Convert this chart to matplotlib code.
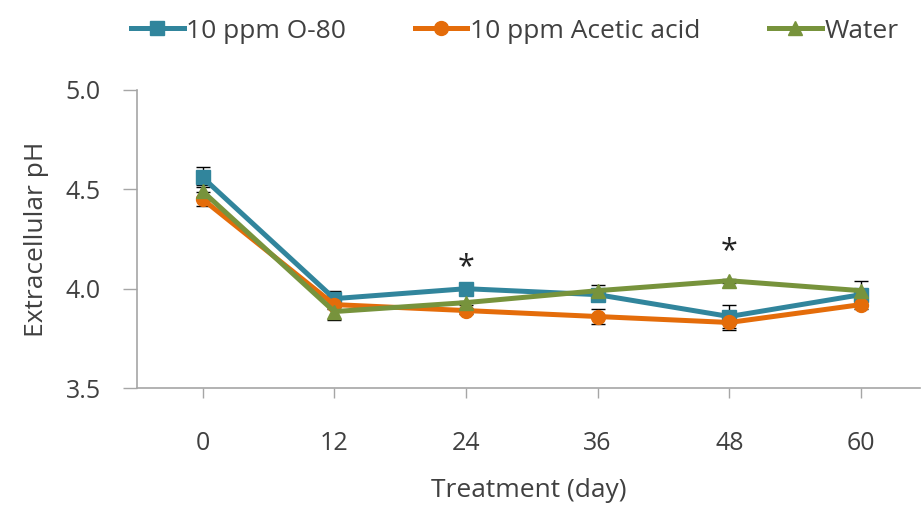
import matplotlib.pyplot as plt

# treatment days and mean extracellular pH for each condition
days = [0, 12, 24, 36, 48, 60]
o80 = [4.56, 3.95, 4.00, 3.97, 3.86, 3.97]
o80_err = [0.05, 0.04, 0.01, 0.03, 0.06, 0.02]
acetic = [4.45, 3.92, 3.89, 3.86, 3.83, 3.92]
acetic_err = [0.035, 0.02, 0.015, 0.04, 0.04, 0.02]
water = [4.49, 3.885, 3.93, 3.99, 4.04, 3.99]
water_err = [0.03, 0.04, 0.01, 0.03, 0.01, 0.05]

# significance marks
star_days = [24, 48]
star_y = [4.11, 4.19]

text_color = '#404040'
axis_color = '#A6A6A6'

plt.rcParams['font.family'] = ['Open Sans', 'DejaVu Sans']

fig = plt.figure(figsize=(9.24, 5.14), dpi=100)
ax = fig.add_axes([0.148, 0.245, 0.848, 0.58])

series = [
    (o80, o80_err, '10 ppm O-80', '#31859C', 's'),
    (acetic, acetic_err, '10 ppm Acetic acid', '#E46C0A', 'o'),
    (water, water_err, 'Water', '#77933C', '^'),
]
for vals, errs, label, color, marker in series:
    ax.errorbar(days, vals, yerr=errs, color=color, ecolor='black', elinewidth=1,
                capsize=5, capthick=1, zorder=1)
    ax.plot(days, vals, color=color, lw=3.6, marker=marker, ms=10,
            label=label, zorder=2)

for d, y in zip(star_days, star_y):
    ax.text(d, y, '*', ha='center', va='center', fontsize=22, color='#222222')

ax.set_xlim(-6, 65.4)
ax.set_ylim(3.5, 5.0)
ax.set_xticks(days)
ax.set_yticks([3.5, 4.0, 4.5, 5.0])
ax.set_yticklabels(['3.5', '4.0', '4.5', '5.0'])

for side in ['top', 'right']:
    ax.spines[side].set_visible(False)
for side in ['left', 'bottom']:
    ax.spines[side].set_color(axis_color)
    ax.spines[side].set_linewidth(1.2)

ax.tick_params(axis='x', direction='out', length=7, width=1, color=axis_color,
               pad=24, labelsize=18, labelcolor=text_color)
ax.tick_params(axis='y', direction='out', length=10, width=1, color=axis_color,
               pad=16, labelsize=18, labelcolor=text_color)

ax.set_xlabel('Treatment (day)', fontsize=19, color=text_color, labelpad=16)
ax.set_ylabel('Extracellular pH', fontsize=19, color=text_color, labelpad=12)

handles, labels = ax.get_legend_handles_labels()
fig.legend(handles, labels, loc='upper center', bbox_to_anchor=(0.557, 1.01),
           ncol=3, frameon=False, fontsize=19, handlelength=2.0,
           handletextpad=0.1, columnspacing=2.6, labelcolor=text_color)

fig.savefig('out.png', dpi=100)
